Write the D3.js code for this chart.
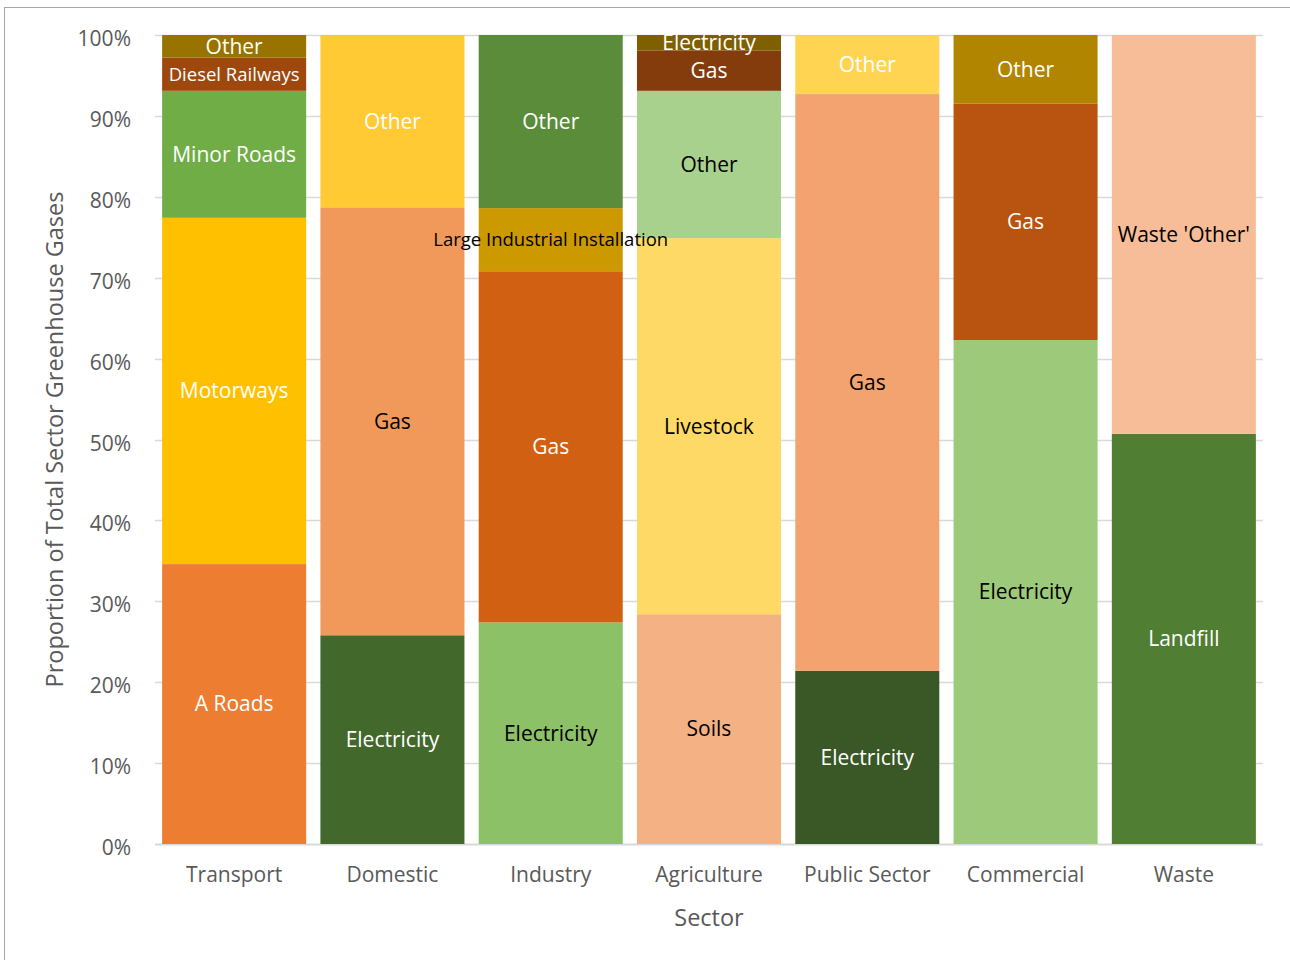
<!DOCTYPE html>
<html>
<head>
<meta charset="utf-8">
<script src="https://cdn.jsdelivr.net/npm/d3@7"></script>
<style>
	body { margin: 0; background: #fff; }
	svg { display: block; font-family: "Open Sans", Lato, sans-serif; }
	.tick-label { fill: #595959; font-size: 21px; }
	.axis-title { fill: #595959; font-size: 23.5px; }
</style>
</head>
<body>
<div class="chart"></div>
<script>
// DATA
var sectors = ["Transport", "Domestic", "Industry", "Agriculture", "Public Sector", "Commercial", "Waste"];
var yTicks = [0, 0.1, 0.2, 0.3, 0.4, 0.5, 0.6, 0.7, 0.8, 0.9, 1.0];

// segments of each sector, bottom to top, share in %
var transportParts = ["A Roads", "Motorways", "Minor Roads", "Diesel Railways", "Other"];
var transportShares = [34.6, 42.8, 15.7, 4.1, 2.8];

var domesticParts = ["Electricity", "Gas", "Other"];
var domesticShares = [25.8, 52.9, 21.3];

var industryParts = ["Electricity", "Gas", "Large Industrial Installation", "Other"];
var industryShares = [27.4, 43.4, 7.8, 21.4];

var agricultureParts = ["Soils", "Livestock", "Other", "Gas", "Electricity"];
var agricultureShares = [28.4, 46.5, 18.2, 5.0, 1.9];

var publicParts = ["Electricity", "Gas", "Other"];
var publicShares = [21.4, 71.3, 7.3];

var commercialParts = ["Electricity", "Gas", "Other"];
var commercialShares = [62.3, 29.2, 8.5];

var wasteParts = ["Landfill", "Waste 'Other'"];
var wasteShares = [50.7, 49.3];

// STYLES
var transportColors = ["#ED7D31", "#FFC000", "#70AD47", "#9E480E", "#997300"];
var domesticColors = ["#43682B", "#F1985B", "#FFCA34"];
var industryColors = ["#8CC168", "#D26012", "#CC9900", "#5A8C3A"];
var agricultureColors = ["#F4B183", "#FFD966", "#A9D18E", "#843C0C", "#7F6000"];
var publicColors = ["#3A5726", "#F2A36F", "#FFD452"];
var commercialColors = ["#9DC97A", "#B85310", "#B28500"];
var wasteColors = ["#507E32", "#F6BD98"];

var transportInk = ["#fff", "#fff", "#fff", "#fff", "#fff"];
var domesticInk = ["#fff", "#000", "#fff"];
var industryInk = ["#000", "#fff", "#000", "#fff"];
var agricultureInk = ["#000", "#000", "#000", "#fff", "#fff"];
var publicInk = ["#fff", "#000", "#fff"];
var commercialInk = ["#000", "#fff", "#fff"];
var wasteInk = ["#fff", "#000"];

var parts = [transportParts, domesticParts, industryParts, agricultureParts, publicParts, commercialParts, wasteParts];
var shares = [transportShares, domesticShares, industryShares, agricultureShares, publicShares, commercialShares, wasteShares];
var colors = [transportColors, domesticColors, industryColors, agricultureColors, publicColors, commercialColors, wasteColors];
var inks = [transportInk, domesticInk, industryInk, agricultureInk, publicInk, commercialInk, wasteInk];

// LAYOUT
var width = 1290, height = 960;
var plot = { left: 155, right: 1263, top: 35, bottom: 844 };

var svg = d3.select(".chart")
	.append("svg")
	.attr("width", width)
	.attr("height", height);

// chart frame
svg.append("rect")
	.attr("x", 4.5)
	.attr("y", 7.5)
	.attr("width", width + 10)
	.attr("height", height + 10)
	.attr("fill", "none")
	.attr("stroke", "#a6a6a6");

var x = d3.scaleBand()
	.domain(sectors)
	.range([plot.left, plot.right])
	.paddingInner(0.09)
	.paddingOuter(0.045);

var y = d3.scaleLinear()
	.domain([0, 1])
	.range([plot.bottom, plot.top]);

// gridlines
svg.append("g")
	.selectAll("line")
	.data(yTicks)
	.enter().append("line")
		.attr("x1", plot.left)
		.attr("x2", plot.right)
		.attr("y1", function(d) { return Math.round(y(d)) + 0.5; })
		.attr("y2", function(d) { return Math.round(y(d)) + 0.5; })
		.attr("stroke", "#d9d9d9")
		.attr("stroke-width", function(d) { return d === 0 ? 2 : 1.5; });

// y axis labels
var yAxis = d3.axisLeft(y)
	.tickValues(yTicks)
	.tickFormat(d3.format(".0%"))
	.tickSize(0)
	.tickPadding(0);

var yg = svg.append("g")
	.attr("transform", "translate(131, 0)")
	.call(yAxis)
	.attr("font-family", null)
	.attr("font-size", null);
yg.select(".domain").remove();
yg.selectAll("text")
	.attr("class", "tick-label")
	.attr("dy", "0.5em");

// x axis labels
var xAxis = d3.axisBottom(x).tickSize(0).tickPadding(0);
var xg = svg.append("g")
	.attr("transform", "translate(0, 882)")
	.call(xAxis)
	.attr("font-family", null)
	.attr("font-size", null);
xg.select(".domain").remove();
xg.selectAll("text")
	.attr("class", "tick-label")
	.attr("dy", "0");

// axis titles
svg.append("text")
	.attr("class", "axis-title")
	.attr("x", (plot.left + plot.right) / 2)
	.attr("y", 926)
	.attr("text-anchor", "middle")
	.text("Sector");

svg.append("text")
	.attr("class", "axis-title")
	.attr("transform", "translate(63, " + ((plot.top + plot.bottom) / 2) + ") rotate(-90)")
	.attr("text-anchor", "middle")
	.text("Proportion of Total Sector Greenhouse Gases");

// stacked bars
var bars = svg.append("g");
var labels = svg.append("g");

sectors.forEach(function(sector, i) {
	var acc = 0;
	var segs = shares[i].map(function(v, j) {
		var s = { name: parts[i][j], y0: acc / 100, y1: Math.min(1, (acc + v) / 100), color: colors[i][j], ink: inks[i][j] };
		acc += v;
		return s;
	});

	bars.selectAll(".seg-" + i)
		.data(segs)
		.enter().append("rect")
			.attr("class", "seg-" + i)
			.attr("x", x(sector))
			.attr("width", x.bandwidth())
			.attr("y", function(d) { return y(d.y1); })
			.attr("height", function(d) { return y(d.y0) - y(d.y1); })
			.attr("fill", function(d) { return d.color; });

	labels.selectAll(".lab-" + i)
		.data(segs)
		.enter().append("text")
			.attr("class", "lab-" + i)
			.attr("x", x(sector) + x.bandwidth() / 2)
			.attr("y", function(d) { return (y(d.y0) + y(d.y1)) / 2; })
			.attr("dy", "0.35em")
			.attr("text-anchor", "middle")
			.attr("font-size", function(d) {
				if (d.name === "Diesel Railways") return "18.5px";
				if (d.name === "Large Industrial Installation") return "18.5px";
				return "21px";
			})
			.attr("fill", function(d) { return d.ink; })
			.text(function(d) { return d.name; });
});
</script>
</body>
</html>
